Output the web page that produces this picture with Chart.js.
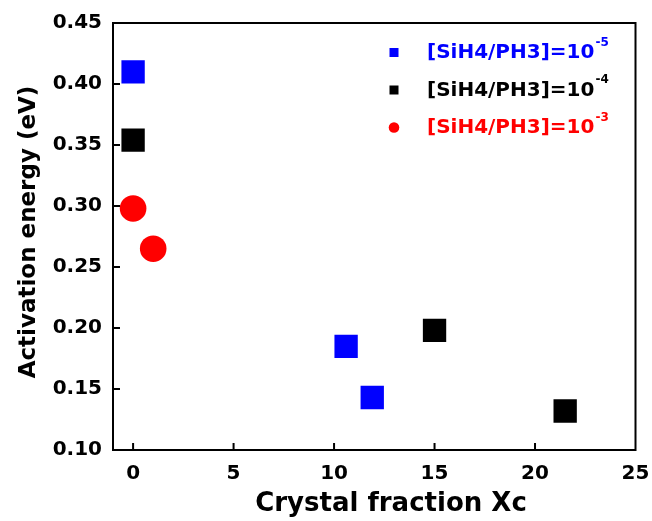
<!DOCTYPE html>
<html>
<head>
<meta charset="utf-8">
<script src="https://cdn.jsdelivr.net/npm/chart.js@4.4.0/dist/chart.umd.min.js"></script>
<style>
  html, body { margin: 0; padding: 0; background: #fff; }
  #wrap { width: 652px; height: 521px; }
</style>
</head>
<body>
<div id="wrap"><canvas id="c" width="652" height="521"></canvas></div>
<script>
// ---- data ----
const xTickValues = [0, 5, 10, 15, 20, 25];
const yTickValues = [0.10, 0.15, 0.20, 0.25, 0.30, 0.35, 0.40, 0.45];

const seriesBase = ["[SiH4/PH3]=10", "[SiH4/PH3]=10", "[SiH4/PH3]=10"];
const seriesExp = ["-5", "-4", "-3"];
const seriesColors = ["#0000ff", "#000000", "#ff0000"];
const seriesShapes = ["rect", "rect", "circle"];

const blueX = [0, 10.6, 11.9];
const blueY = [0.410, 0.185, 0.143];
const blackX = [0, 15.0, 21.5];
const blackY = [0.354, 0.198, 0.132];
const redX = [0, 1.0];
const redY = [0.298, 0.265];

const xTitle = "Crystal fraction Xc";
const yTitle = "Activation energy (eV)";

function pts(xs, ys) { return xs.map((x, i) => ({ x: x, y: ys[i] })); }

const FONT = "'DejaVu Sans', 'Liberation Sans', Arial, sans-serif";

const framePlugin = {
  id: 'frame',
  afterDraw(chart) {
    const ctx = chart.ctx;
    const ca = chart.chartArea;
    const xs = chart.scales.x, ys = chart.scales.y;
    ctx.save();
    ctx.strokeStyle = '#000';
    ctx.lineWidth = 2;
    ctx.strokeRect(ca.left, ca.top, ca.right - ca.left, ca.bottom - ca.top);
    // inward ticks
    ctx.beginPath();
    xTickValues.forEach(v => {
      const p = xs.getPixelForValue(v);
      if (p > ca.left + 2 && p < ca.right - 2) {
        ctx.moveTo(p, ca.bottom);
        ctx.lineTo(p, ca.bottom - 7);
      }
    });
    yTickValues.forEach(v => {
      const p = ys.getPixelForValue(v);
      if (p > ca.top + 2 && p < ca.bottom - 2) {
        ctx.moveTo(ca.left, p);
        ctx.lineTo(ca.left + 7, p);
      }
    });
    ctx.stroke();

    // axis titles
    ctx.fillStyle = '#000';
    ctx.font = "bold 26px " + FONT;
    ctx.textAlign = 'center';
    ctx.textBaseline = 'alphabetic';
    ctx.fillText(xTitle, 391, 511);

    ctx.save();
    ctx.translate(35, 232);
    ctx.rotate(-Math.PI / 2);
    ctx.font = "bold 23px " + FONT;
    ctx.fillText(yTitle, 0, 0);
    ctx.restore();

    // legend
    const markerX = 394, textX = 427;
    const baselines = [58, 95.5, 133];
    for (let i = 0; i < seriesBase.length; i++) {
      const by = baselines[i];
      const my = by - 5.5;
      ctx.fillStyle = seriesColors[i];
      if (seriesShapes[i] === 'rect') {
        ctx.fillRect(markerX - 4.5, my - 4.5, 9, 9);
      } else {
        ctx.beginPath();
        ctx.arc(markerX, my, 5.3, 0, Math.PI * 2);
        ctx.fill();
      }
      ctx.textAlign = 'left';
      ctx.font = "bold 20px " + FONT;
      ctx.fillText(seriesBase[i], textX, by);
      const w = ctx.measureText(seriesBase[i]).width;
      ctx.font = "bold 12px " + FONT;
      ctx.fillText(seriesExp[i], textX + w + 1, by - 12.5);
    }
    ctx.restore();
  }
};

function noPad(s) {
  s.paddingLeft = 0; s.paddingRight = 0; s.paddingTop = 0; s.paddingBottom = 0;
}

new Chart(document.getElementById('c'), {
  type: 'scatter',
  data: {
    datasets: [
      { label: seriesBase[0] + seriesExp[0], data: pts(blueX, blueY), pointStyle: seriesShapes[0],
        backgroundColor: seriesColors[0], borderColor: seriesColors[0], borderWidth: 0, pointRadius: 16.5 },
      { label: seriesBase[1] + seriesExp[1], data: pts(blackX, blackY), pointStyle: seriesShapes[1],
        backgroundColor: seriesColors[1], borderColor: seriesColors[1], borderWidth: 0, pointRadius: 16.5 },
      { label: seriesBase[2] + seriesExp[2], data: pts(redX, redY), pointStyle: seriesShapes[2],
        backgroundColor: seriesColors[2], borderColor: seriesColors[2], borderWidth: 0, pointRadius: 13.3 }
    ]
  },
  options: {
    responsive: false,
    animation: false,
    devicePixelRatio: 1,
    layout: { padding: { left: 0, right: 16, top: 23, bottom: 0 } },
    plugins: { legend: { display: false }, tooltip: { enabled: false } },
    scales: {
      x: {
        type: 'linear', min: -1, max: 25,
        afterBuildTicks: s => { s.ticks = xTickValues.map(v => ({ value: v })); },
        afterFit: s => { s.height = 71; noPad(s); },
        grid: { display: false, drawTicks: false },
        border: { display: false },
        ticks: { padding: 12, color: '#000', maxRotation: 0, autoSkip: false,
          font: { family: FONT, weight: 'bold', size: 20 },
          callback: v => String(v) }
      },
      y: {
        type: 'linear', min: 0.10, max: 0.45,
        afterBuildTicks: s => { s.ticks = yTickValues.map(v => ({ value: v })); },
        afterFit: s => { s.width = 113; noPad(s); },
        grid: { display: false, drawTicks: false },
        border: { display: false },
        ticks: { padding: 11, color: '#000', autoSkip: false,
          font: { family: FONT, weight: 'bold', size: 20 },
          callback: v => Number(v).toFixed(2) }
      }
    }
  },
  plugins: [framePlugin]
});
</script>
</body>
</html>
